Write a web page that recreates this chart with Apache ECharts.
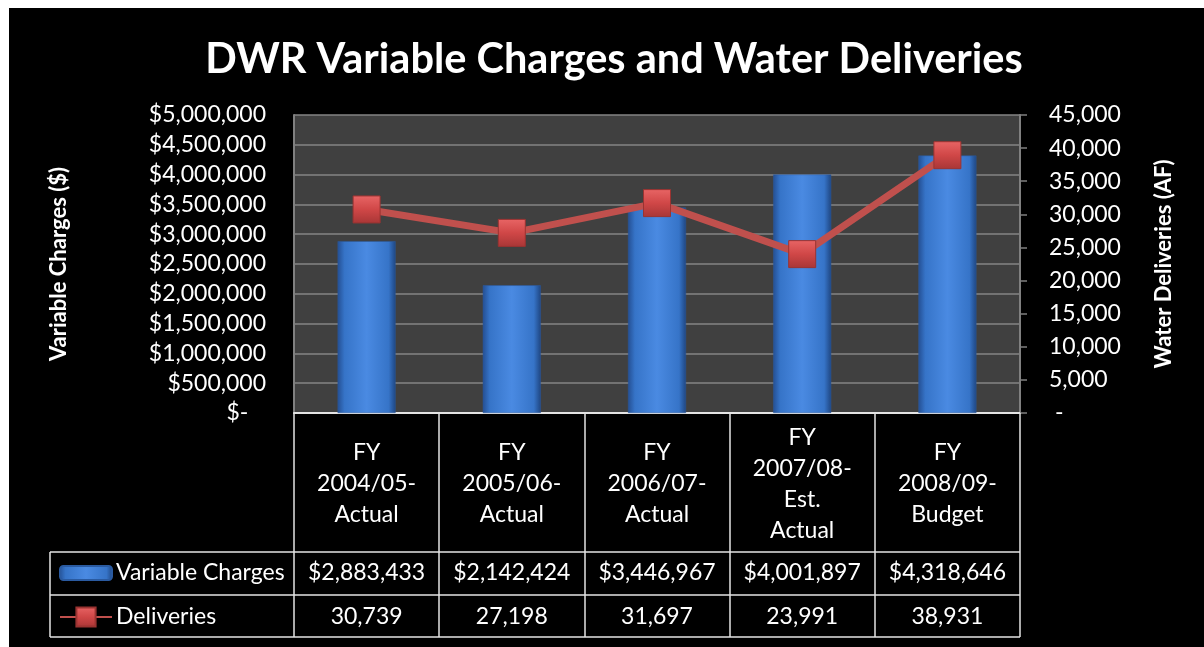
<!DOCTYPE html>
<html>
<head>
<meta charset="utf-8">
<title>DWR Variable Charges and Water Deliveries</title>
<script src="https://cdn.jsdelivr.net/npm/echarts@6/dist/echarts.min.js"></script>
<style>
  html, body { margin: 0; padding: 0; background: #fff; }
  #chart { width: 1204px; height: 647px; }
</style>
</head>
<body>
<div id="chart"></div>
<script>
// data
var categories = ['FY\n2004/05-\nActual', 'FY\n2005/06-\nActual', 'FY\n2006/07-\nActual', 'FY\n2007/08-\nEst.\nActual', 'FY\n2008/09-\nBudget'];
var charges = [2883433, 2142424, 3446967, 4001897, 4318646];
var deliveries = [30739, 27198, 31697, 23991, 38931];

var FONT = 'Lato, "Open Sans", sans-serif';

function commas(n) {
  return String(n).replace(/\B(?=(\d{3})+(?!\d))/g, ',');
}

var chart = echarts.init(document.getElementById('chart'));

var barColor = new echarts.graphic.LinearGradient(0, 0, 1, 0, [
  { offset: 0, color: '#244f93' },
  { offset: 0.12, color: '#3674c8' },
  { offset: 0.5, color: '#4a8ae2' },
  { offset: 0.88, color: '#3674c8' },
  { offset: 1, color: '#1f4681' }
]);
var markColor = new echarts.graphic.LinearGradient(0, 0, 0, 1, [
  { offset: 0, color: '#e86565' },
  { offset: 0.5, color: '#d04747' },
  { offset: 1, color: '#a83636' }
]);

var lineColor = '#e4e4e4';
var labelSize = 23;

var option = {
  backgroundColor: '#000',
  title: {
    text: 'DWR Variable Charges and Water Deliveries',
    left: 609,
    top: 34,
    textAlign: 'center',
    textStyle: { color: '#fff', fontFamily: FONT, fontWeight: 'bold', fontSize: 41.5 }
  },
  legend: [{
    data: ['Variable Charges'],
    left: 59, top: 560, padding: 0,
    itemWidth: 52, itemHeight: 14, itemGap: 4,
    textStyle: { color: '#fff', fontFamily: FONT, fontSize: labelSize, lineHeight: 26, padding: [0, 0, 0, -1] }
  }, {
    data: ['Deliveries'],
    left: 59, top: 604, padding: 0,
    itemWidth: 52, itemHeight: 24, itemGap: 4,
    textStyle: { color: '#fff', fontFamily: FONT, fontSize: labelSize, lineHeight: 26, padding: [0, 0, 0, -1] }
  }],
  grid: {
    left: 294, right: 184, top: 115, bottom: 234,
    show: true, backgroundColor: '#404040', borderWidth: 0
  },
  xAxis: [{
    type: 'category',
    data: categories,
    axisLine: { lineStyle: { color: lineColor, width: 2 } },
    axisTick: { show: true, interval: 0, length: 224, lineStyle: { color: lineColor, width: 1.5 } },
    axisLabel: {
      interval: 0, margin: 71, verticalAlign: 'middle',
      color: '#fff', fontFamily: FONT, fontSize: labelSize, lineHeight: 31
    }
  }, {
    type: 'category',
    data: categories,
    position: 'bottom',
    offset: 139,
    axisLine: { show: false },
    axisTick: { show: false },
    axisLabel: {
      interval: 0, margin: 21, verticalAlign: 'middle',
      color: '#fff', fontFamily: FONT, fontSize: labelSize,
      formatter: function (v, i) { return '$' + commas(charges[i]); }
    }
  }, {
    type: 'category',
    data: categories,
    position: 'bottom',
    offset: 182,
    axisLine: { show: false },
    axisTick: { show: false },
    axisLabel: {
      interval: 0, margin: 22, verticalAlign: 'middle',
      color: '#fff', fontFamily: FONT, fontSize: labelSize,
      formatter: function (v, i) { return commas(deliveries[i]); }
    }
  }],
  yAxis: [{
    type: 'value',
    min: 0, max: 5000000, interval: 500000,
    name: 'Variable Charges ($)',
    nameLocation: 'middle',
    nameGap: 224,
    nameTextStyle: { color: '#fff', fontFamily: FONT, fontWeight: 'bold', fontSize: 22 },
    axisLine: { show: true, lineStyle: { color: '#808080', width: 2 } },
    axisTick: { show: false },
    splitLine: { lineStyle: { color: '#858585', width: 1.5 } },
    axisLabel: {
      margin: 28, color: '#fff', fontFamily: FONT, fontSize: labelSize,
      formatter: function (v) { return v === 0 ? '$-   ' : '$' + commas(v); }
    }
  }, {
    type: 'value',
    min: 0, max: 45000, interval: 5000,
    name: 'Water Deliveries (AF)',
    nameLocation: 'middle',
    nameGap: 133,
    nameTextStyle: { color: '#fff', fontFamily: FONT, fontWeight: 'bold', fontSize: 22 },
    axisLine: { show: true, lineStyle: { color: '#808080', width: 2 } },
    axisTick: { show: true, length: 7, lineStyle: { color: '#808080', width: 1.5 } },
    splitLine: { show: false },
    axisLabel: {
      margin: 29, color: '#fff', fontFamily: FONT, fontSize: labelSize,
      formatter: function (v) { return v === 0 ? ' -' : commas(v); }
    }
  }],
  series: [{
    name: 'Variable Charges',
    type: 'bar',
    data: charges,
    barWidth: 58,
    itemStyle: { color: barColor, borderColor: '#2a5aa0', borderWidth: 0.5 },
    emphasis: { disabled: true }
  }, {
    name: 'Deliveries',
    type: 'line',
    yAxisIndex: 1,
    data: deliveries,
    symbol: 'rect',
    symbolSize: 27,
    lineStyle: { color: '#c0504d', width: 7 },
    itemStyle: { color: markColor, borderColor: '#9a3331', borderWidth: 1 },
    emphasis: { disabled: true },
    z: 3
  }],
  graphic: [
    { type: 'line', shape: { x1: 50, y1: 552, x2: 1020, y2: 552 }, style: { stroke: lineColor, lineWidth: 1.5 } },
    { type: 'line', shape: { x1: 50, y1: 595, x2: 1020, y2: 595 }, style: { stroke: lineColor, lineWidth: 1.5 } },
    { type: 'line', shape: { x1: 50, y1: 637, x2: 1020, y2: 637 }, style: { stroke: lineColor, lineWidth: 1.5 } },
    { type: 'line', shape: { x1: 50, y1: 552, x2: 50, y2: 637 }, style: { stroke: lineColor, lineWidth: 1.5 } },
    { type: 'rect', shape: { x: 0, y: 0, width: 9, height: 647 }, style: { fill: '#fff' }, z: 100 },
    { type: 'rect', shape: { x: 0, y: 0, width: 1204, height: 8 }, style: { fill: '#fff' }, z: 100 }
  ]
};

chart.setOption(option);
</script>
</body>
</html>
